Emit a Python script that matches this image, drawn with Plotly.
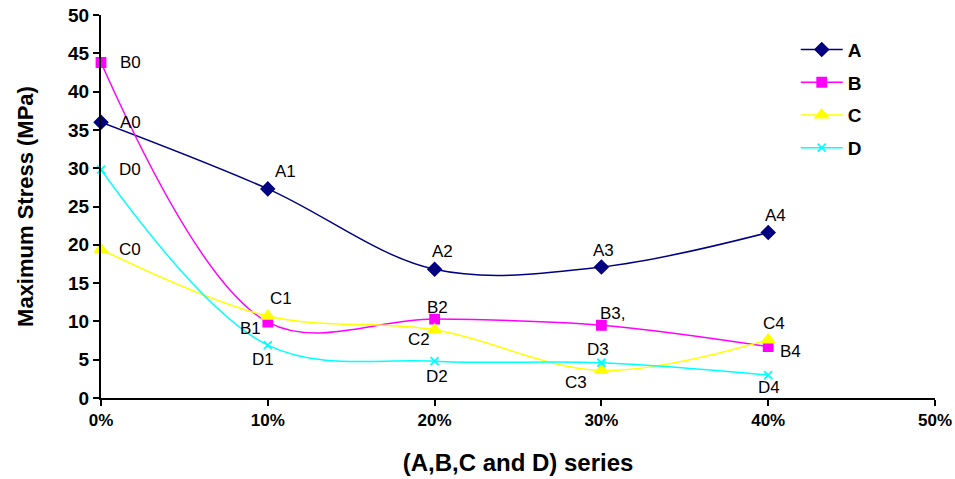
import plotly.graph_objects as go

# Replacement level of each series (fraction)
levels = [0.0, 0.10, 0.20, 0.30, 0.40]

# Maximum stress (MPa) per series
stress_a = [36.0, 27.3, 16.8, 17.1, 21.6]
stress_b = [43.8, 9.9, 10.3, 9.5, 6.7]
stress_c = [19.4, 10.7, 8.9, 3.6, 7.6]
stress_d = [29.8, 6.9, 4.8, 4.6, 3.0]

labels_a = ["A0", "A1", "A2", "A3", "A4"]
labels_b = ["B0", "B1", "B2", "B3,", "B4"]
labels_c = ["C0", "C1", "C2", "C3", "C4"]
labels_d = ["D0", "D1", "D2", "D3", "D4"]

# Pixel offsets (dx right, dy down) of each point label from its marker
offsets_a = [(29, 0), (18, -17), (8, -18), (2, -17), (7, -17)]
offsets_b = [(29, 0), (-17, 6), (3, -12), (12, -12), (22, 5)]
offsets_c = [(29, 0), (13, -18), (-16, 10), (-25, 12), (6, -16)]
offsets_d = [(29, 0), (-5, 14), (2, 15), (-3, -13), (1, 12)]

FONT = "Liberation Sans, Arial, sans-serif"

series = [
    ("A", stress_a, labels_a, offsets_a, "#000080", "diamond", 10),
    ("B", stress_b, labels_b, offsets_b, "#FF00FF", "square", 9),
    ("C", stress_c, labels_c, offsets_c, "#FFFF00", "triangle-up", 11),
    ("D", stress_d, labels_d, offsets_d, "#00FFFF", "x-thin", 8),
]

fig = go.Figure()
annotations = []
for name, vals, labs, offs, color, sym, size in series:
    fig.add_trace(go.Scatter(
        x=levels, y=vals, name=name, mode="lines+markers",
        legendgroup=name,
        line=dict(color=color, width=1.5, shape="spline", smoothing=1.0),
        marker=dict(symbol=sym, size=size, color=color,
                    line=dict(color=color, width=1.8)),
        cliponaxis=False,
    ))
    for xv, yv, lab, (dx, dy) in zip(levels, vals, labs, offs):
        annotations.append(dict(
            x=xv, y=yv, xref="x", yref="y", text=lab, showarrow=False,
            xshift=dx, yshift=-dy, xanchor="center", yanchor="middle",
            font=dict(family=FONT, size=17, color="black"),
        ))

fig.update_layout(
    width=955, height=479,
    margin=dict(l=101, r=20, t=15, b=81),
    paper_bgcolor="white", plot_bgcolor="white",
    font=dict(family=FONT, color="black"),
    annotations=annotations,
    legend=dict(x=0.833, y=0.959, xanchor="left", yanchor="top",
                traceorder="grouped", tracegroupgap=5, itemwidth=42,
                font=dict(size=19, color="black", family=FONT, weight="bold"),
                bgcolor="rgba(0,0,0,0)"),
    xaxis=dict(
        range=[0, 0.5], tickvals=[0, 0.1, 0.2, 0.3, 0.4, 0.5],
        tickformat=".0%", showgrid=False, zeroline=False, automargin=False,
        showline=True, linecolor="black", linewidth=2,
        ticks="outside", tickcolor="black", ticklen=6, tickwidth=2,
        tickfont=dict(size=17, family=FONT, color="black", weight="bold"),
        title=dict(text="<b>(A,B,C and D) series</b>",
                   font=dict(size=24, family=FONT), standoff=25),
    ),
    yaxis=dict(
        range=[0, 50], dtick=5, showgrid=False, zeroline=False, automargin=False,
        showline=True, linecolor="black", linewidth=2,
        ticks="outside", tickcolor="black", ticklen=6, tickwidth=2,
        tickfont=dict(size=19, family=FONT, color="black", weight="bold"),
        title=dict(text="<b>Maximum Stress (MPa)</b>", font=dict(size=22), standoff=28),
    ),
)

fig.write_html("out.html")
